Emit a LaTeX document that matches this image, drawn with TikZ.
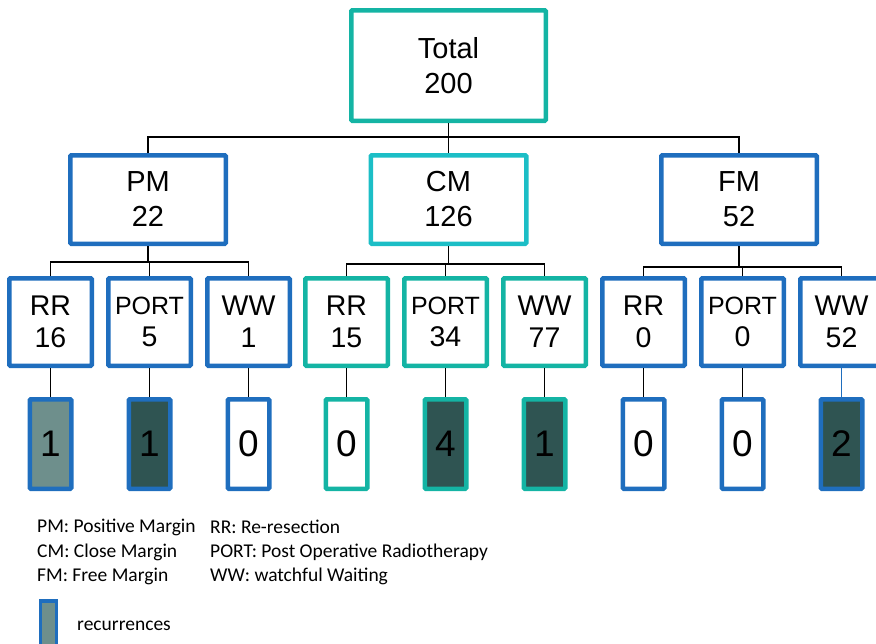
\documentclass[tikz,border=0pt]{standalone}
\usepackage{fontspec}
\setmainfont{Liberation Sans}
\newfontfamily\legendfont{Carlito}
\definecolor{cblue}{HTML}{1F6EBE}
\definecolor{cteal}{HTML}{14B4A4}
\definecolor{ccyan}{HTML}{1CBEC6}
\definecolor{clight}{HTML}{6E8F8C}
\definecolor{cdark}{HTML}{2F5452}
\tikzset{
  x=1pt, y=-1pt,
  box/.style={draw, line width=4.5pt, rounded corners=1pt, fill=white, align=center, inner sep=0pt},
  topbox/.style={box, minimum width=194.5pt, minimum height=110.5pt, font=\fontsize{29}{35}\selectfont},
  midbox/.style={box, minimum width=155.5pt, minimum height=88.5pt, font=\fontsize{29}{35}\selectfont},
  leafbox/.style={box, minimum width=82.5pt, minimum height=87.5pt, font=\fontsize{28.5}{32}\selectfont},
  recbox/.style={box, minimum width=41.5pt, minimum height=89.5pt, font=\fontsize{37}{40}\selectfont},
  conn/.style={draw=black, line width=1.2pt},
  legend/.style={anchor=west, inner sep=0pt, font=\legendfont\fontsize{19.5}{19.5}\selectfont}
}
\begin{document}
\begin{tikzpicture}
\useasboundingbox (0,0) rectangle (876,643);
% level 1
\node[topbox, draw=cteal] (tot) at (448.5,65.5) {Total\\200};
% level 2
\node[midbox, draw=cblue] (pm) at (148,199.5) {PM\\22};
\node[midbox, draw=ccyan] (cm) at (448.5,199.5) {CM\\126};
\node[midbox, draw=cblue] (fm) at (739,199.5) {FM\\52};
% level 3
\node[leafbox, draw=cblue] (l1) at (50.5,322) {RR\\16};
\node[leafbox, draw=cblue] (l2) at (149.5,322) {{\fontsize{25}{32}\selectfont PORT}\\5};
\node[leafbox, draw=cblue] (l3) at (248.5,322) {WW\\1};
\node[leafbox, draw=cteal] (l4) at (346.5,322) {RR\\15};
\node[leafbox, draw=cteal] (l5) at (445.5,322) {{\fontsize{25}{32}\selectfont PORT}\\34};
\node[leafbox, draw=cteal] (l6) at (544.5,322) {WW\\77};
\node[leafbox, draw=cblue] (l7) at (643.5,322) {RR\\0};
\node[leafbox, draw=cblue] (l8) at (742.5,322) {{\fontsize{25}{32}\selectfont PORT}\\0};
\node[leafbox, draw=cblue] (l9) at (841.5,322) {WW\\52};
% level 4
\node[recbox, draw=cblue, fill=clight] (r1) at (50.5,444) {1};
\node[recbox, draw=cblue, fill=cdark] (r2) at (149.5,444) {1};
\node[recbox, draw=cblue] (r3) at (248.5,444) {0};
\node[recbox, draw=cteal] (r4) at (346.5,444) {0};
\node[recbox, draw=cteal, fill=cdark] (r5) at (445.5,444) {4};
\node[recbox, draw=cteal, fill=cdark] (r6) at (544.5,444) {1};
\node[recbox, draw=cblue] (r7) at (643.5,444) {0};
\node[recbox, draw=cblue] (r8) at (742.5,444) {0};
\node[recbox, draw=cblue, fill=cdark] (r9) at (841.5,444) {2};
% connectors level 1 -> 2
\draw[conn] (tot.south) -- ++(0,14) coordinate (h1);
\draw[conn] (pm.north) |- (h1) -| (fm.north);
\draw[conn] (h1) -- (cm.north);
% level 2 -> 3
\draw[conn] (pm.south) -- (pm.south |- 0,262) coordinate (h2);
\draw[conn] (l1.north) |- (h2) -| (l3.north);
\draw[conn] (l2.north) -- (l2.north |- h2);
\draw[conn] (cm.south) -- (cm.south |- 0,264) coordinate (h3);
\draw[conn] (l4.north) |- (h3) -| (l6.north);
\draw[conn] (l5.north) -- (l5.north |- h3);
\draw[conn] (fm.south) -- (fm.south |- 0,267) coordinate (h4);
\draw[conn] (l7.north) |- (h4) -| (l9.north);
\draw[conn] (l8.north) -- (l8.north |- h4);
% level 3 -> 4
\foreach \i in {1,...,8} {\draw[conn] (l\i.south) -- (r\i.north);}
\draw[conn, draw=cblue] (l9.south) -- (r9.north);
% legend
\node[legend] (lg1) at (37,527) {PM: Positive Margin};
\node[legend] (lg2) at (37,552) {CM: Close Margin};
\node[legend] (lg3) at (37,576) {FM: Free Margin};
\node[legend] (lg4) at (210,527) {RR: Re-resection};
\node[legend] (lg5) at (210,552) {PORT: Post Operative Radiotherapy};
\node[legend] (lg6) at (210,576) {WW: watchful Waiting};
\draw[draw=cblue, fill=clight, line width=3.5pt] (40.5,601) rectangle (56.5,660);
\node[legend] (lg7) at (77,626) {recurrences};
\end{tikzpicture}
\end{document}
